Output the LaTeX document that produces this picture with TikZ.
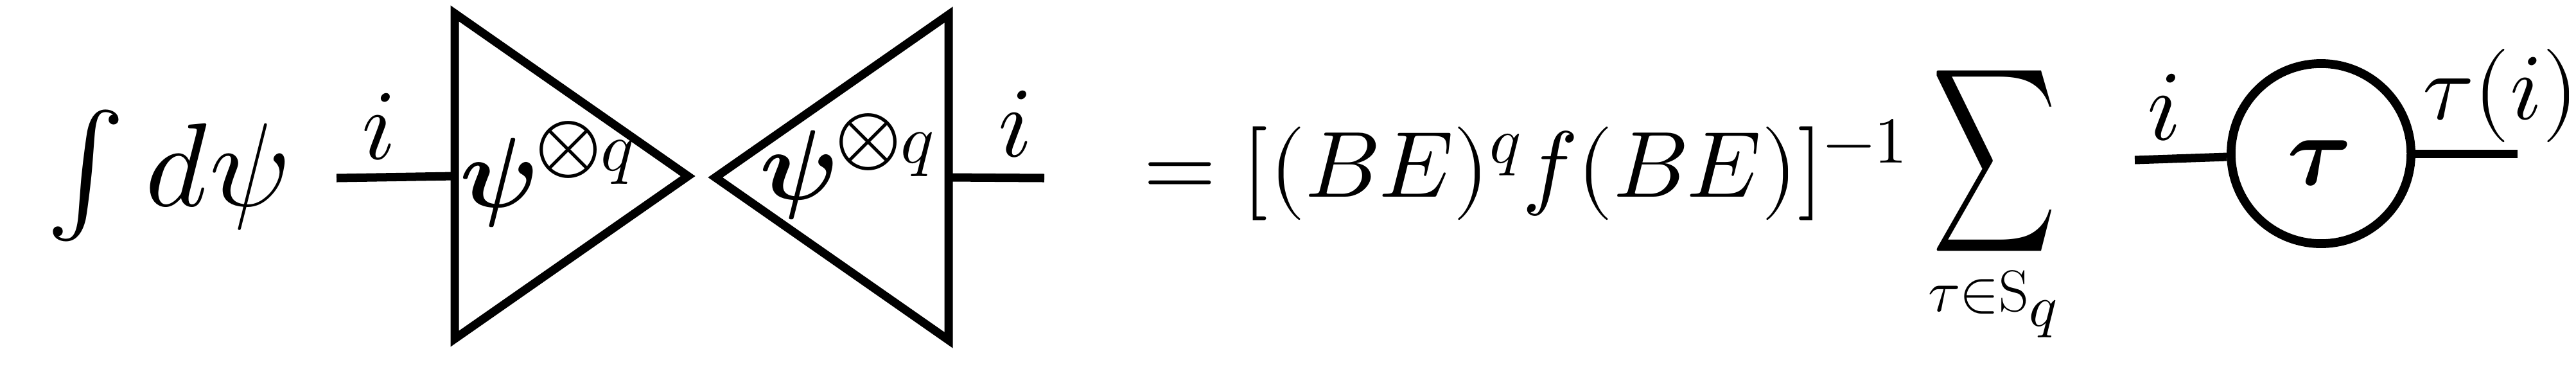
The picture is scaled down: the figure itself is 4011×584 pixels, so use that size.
\documentclass[tikz,border=0pt]{standalone}
\usepackage{amsmath}
\usepackage{graphicx}
\usepackage{unicode-math}
\usepackage{tikz}
\usetikzlibrary{shapes.geometric}

\begin{document}
\begin{tikzpicture}[x=0.01cm,y=-0.01cm,
  wire/.style={line width=3.7pt},
  tri/.style={isosceles triangle,isosceles triangle stretches,draw,line width=3.7pt,
    inner sep=0pt,outer sep=0pt,minimum width=5.06cm,minimum height=3.63cm},
  lbl/.style={inner sep=0pt,font=\fontsize{44}{50}\selectfont}]
\useasboundingbox (0,0) rectangle (4011,584);
% left hand side
\node[lbl,anchor=base west,font=\fontsize{52.5}{60}\selectfont] (intpsi) at (72,320) {$\int d\psi$};
\node[tri,anchor=lower side] (psiA) at (708,274) {};
\node[tri,shape border rotate=180,anchor=lower side] (psiB) at (1477,276) {};
\node[lbl,anchor=base west] (psiAlbl) at (716,322) {$\symbfit{\psi}^{\scalebox{1.2}{$\scriptstyle\otimes$}q}$};
\node[lbl,anchor=base west] (psiBlbl) at (1183,310) {$\symbfit{\psi}^{\scalebox{1.2}{$\scriptstyle\otimes$}q}$};
\coordinate (inA) at (524,277);
\coordinate (outB) at (1626,277);
\draw[wire] (inA) -- node[lbl,pos=.36,above=.2cm] (iA) {$i$} (psiA.lower side);
\draw[wire] (psiB.lower side) -- node[lbl,pos=.7,above=.25cm] (iB) {$i$} (outB);
% right hand side
\node[lbl,anchor=base west,font=\fontsize{41.5}{50}\selectfont] (eq) at (1780,306) {$=[(BE)^q f(BE)]^{-1}$};
\node[lbl,font=\fontsize{57}{60}\selectfont] (sum) at (3105,250) {\scalebox{0.67}[1]{$\displaystyle\sum$}};
\node[lbl,anchor=north,font=\fontsize{26}{30}\selectfont] (sumidx) at (3104,420) {$\tau{\in}\mathrm{S}_{\textstyle q}$};
\node[circle,draw,line width=3.9pt,minimum size=2.8cm,inner sep=0pt] (tau) at (3614,239) {};
\node[lbl,anchor=base] (taulbl) at (3610,287) {$\symbfit{\tau}$};
\coordinate (inT) at (3324,249);
\coordinate (outT) at (3920,239);
\draw[wire] (inT) -- node[lbl,pos=.32,above=.22cm] (iT) {$i$} (tau);
\draw[wire] (tau) -- (outT);
\node[lbl,anchor=base west,font=\fontsize{41.5}{50}\selectfont] (taui) at (3772,185) {$\tau(i)$};
\end{tikzpicture}
\end{document}
